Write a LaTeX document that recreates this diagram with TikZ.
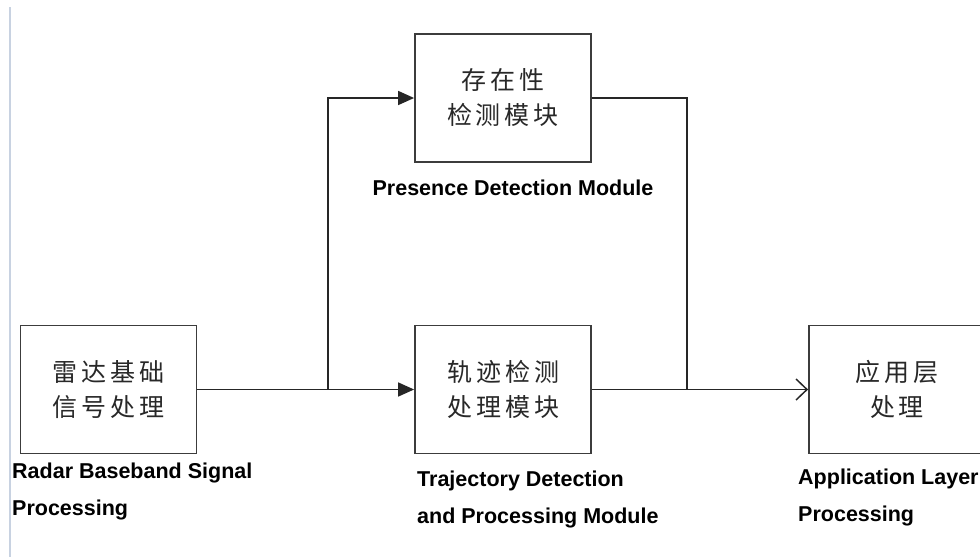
\documentclass[tikz,border=0pt]{standalone}
\usepackage{fontspec}
\setmainfont{Liberation Sans}
\newfontfamily\cjk[LetterSpace=16]{Noto Sans CJK SC}
\usetikzlibrary{arrows.meta}
\definecolor{boxline}{RGB}{60,60,60}
\definecolor{edgeline}{RGB}{200,210,225}
\definecolor{cjktext}{RGB}{40,40,40}
\tikzset{
  blockbox/.style={draw=boxline, line width=1.8pt, minimum width=176pt, minimum height=128pt,
    inner sep=0pt, align=center, text=cjktext,
    font=\cjk\fontsize{25pt}{35pt}\selectfont},
  engl/.style={inner sep=0pt, align=left, font=\bfseries\fontsize{21.5pt}{37pt}\selectfont},
  conn/.style={draw=black!85, line width=1.5pt},
  fillarrow/.style={-{Triangle[length=16pt,width=14pt]}},
  openarrow/.style={-{Straight Barb[length=11pt,width=21pt,line width=1.5pt]}}
}
\begin{document}
\begin{tikzpicture}[x=1pt,y=-1pt]
\useasboundingbox (0,0) rectangle (980,557);
\clip (0,0) rectangle (980,557);
\fill[white] (0,0) rectangle (980,557);
\draw[edgeline, line width=2pt] (10,7) -- (10,557);

\node[blockbox] (radar) at (108.5,389.5) {雷达基础\\信号处理};
\node[blockbox] (pres) at (503,98) {存在性\\检测模块};
\node[blockbox] (traj) at (503,389.5) {轨迹检测\\处理模块};
\node[blockbox] (app) at (897,389.5) {应用层\\处理};

\node[engl, anchor=north west] (radarlbl) at (12,463) {Radar Baseband Signal\\Processing};
\node[engl, anchor=base] (preslbl) at (513,195) {Presence Detection Module};
\node[engl, anchor=north west] (trajlbl) at (417,471) {Trajectory Detection\\and Processing Module};
\node[engl, anchor=north west] (applbl) at (798,469) {Application Layer\\Processing};

\coordinate (split) at (328,389.5);
\coordinate (join) at (687,389.5);

\draw[conn, fillarrow] (radar.east) -- (traj.west);
\draw[conn, fillarrow] (split) |- (pres.west);
\draw[conn] (pres.east) -| (join);
\draw[conn, openarrow] (traj.east) -- (app.west);
\end{tikzpicture}
\end{document}
